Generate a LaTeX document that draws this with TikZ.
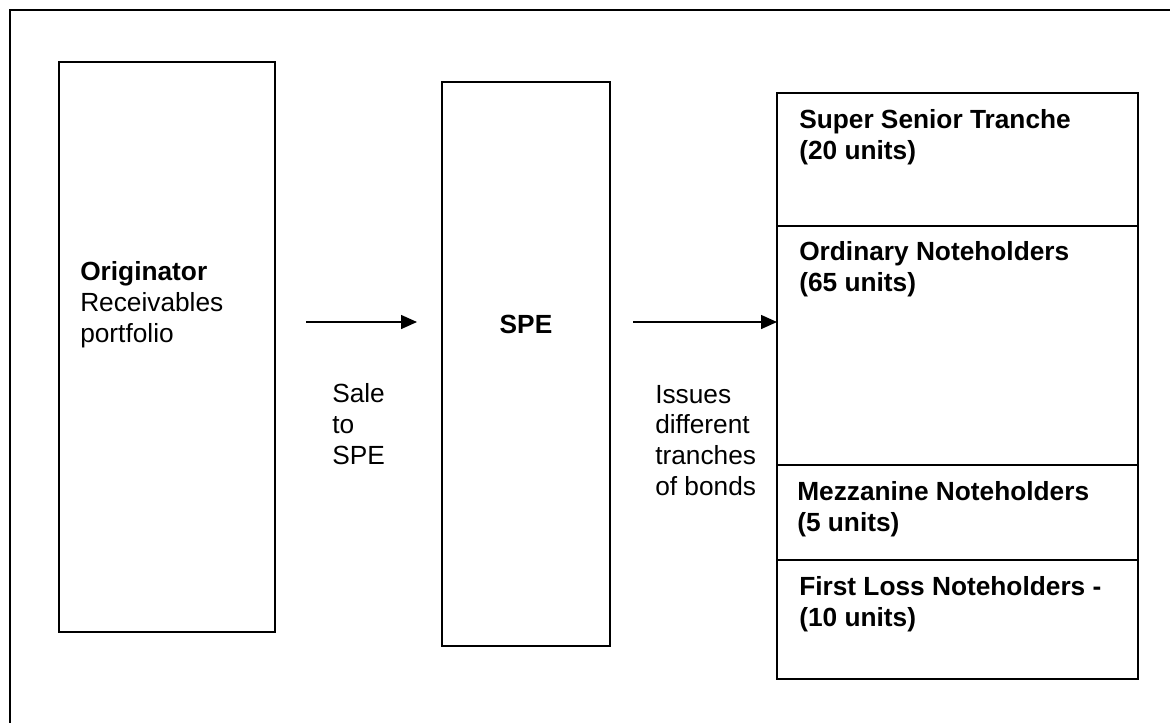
\documentclass[tikz,border=0pt]{standalone}
\usepackage{fontspec}
\setmainfont{Liberation Sans}
\usetikzlibrary{arrows.meta,positioning,calc}

\begin{document}
\begin{tikzpicture}[x=0.75pt,y=-0.75pt,>={Triangle[length=12pt,width=10.5pt]},
    box/.style={draw,line width=1.5pt,outer sep=0pt,inner sep=0pt},
    tranche/.style={box,minimum width=270.75pt},
    txt/.style={font=\fontsize{19.7}{23}\selectfont,align=left,inner sep=0pt,anchor=base west},
    btxt/.style={txt,font=\fontsize{19.7}{23}\selectfont\bfseries}]
  \useasboundingbox (0,0) rectangle (1170,722);
  \draw[line width=1.5pt] (1172,10) -- (10,10) -- (10,724);
  % the three blocks
  \node[box,minimum width=162pt,minimum height=427.5pt] (orig) at (167,347) {};
  \node[box,minimum width=126pt,minimum height=423pt] (spe) at (526,364) {};
  \node[tranche,minimum height=99.75pt] (sst) at (957.5,159.5) {};
  \node[tranche,minimum height=179.25pt,below=0pt of sst] (ord) {};
  \node[tranche,minimum height=71.25pt,below=0pt of ord] (mez) {};
  \node[tranche,minimum height=89.25pt,below=0pt of mez] (flo) {};
  % texts (anchored at the baseline of their last line)
  \node[txt] (origtxt) at ($(orig.north west)+(21,280)$)
      {\textbf{Originator}\\Receivables\\portfolio};
  \node[txt,anchor=base] (spetxt) at ($(spe.north)+(0,251)$) {\textbf{SPE}};
  \node[txt] (saletxt) at ($(orig.north east)+(57,402)$) {Sale\\to\\SPE};
  \node[txt] (issuetxt) at ($(spe.north east)+(45,413)$)
      {Issues\\different\\tranches\\of bonds};
  \node[btxt] (ssttxt) at ($(sst.north west)+(22,66)$) {Super Senior Tranche\\(20 units)};
  \node[btxt] (ordtxt) at ($(ord.north west)+(22,65)$) {Ordinary Noteholders\\(65 units)};
  \node[btxt] (meztxt) at ($(mez.north west)+(20,66)$) {Mezzanine Noteholders\\(5 units)};
  \node[btxt] (flotxt) at ($(flo.north west)+(22,66)$) {First Loss Noteholders -\\(10 units)};
  % arrows
  \coordinate (a1s) at (306,322);
  \coordinate (a1e) at (417,322);
  \coordinate (a2s) at (633,322);
  \draw[->,line width=1.1pt] (a1s) -- (a1e);
  \draw[->,line width=1.1pt] (a2s) -- (a2s -| sst.west);
\end{tikzpicture}
\end{document}
